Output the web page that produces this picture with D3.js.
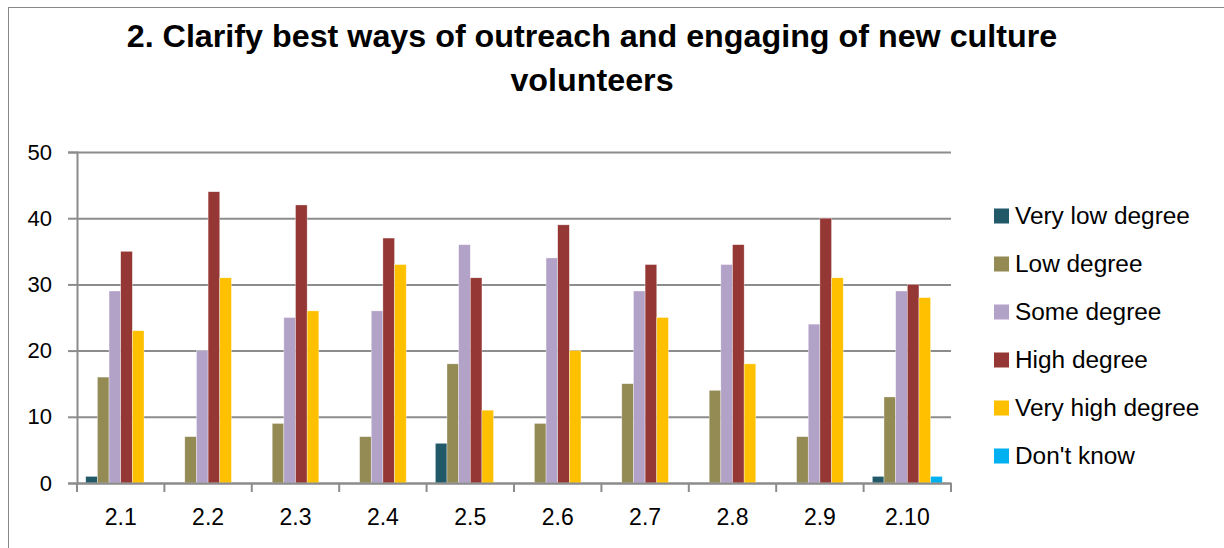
<!DOCTYPE html>
<html><head><meta charset="utf-8">
<script src="https://cdn.jsdelivr.net/npm/d3@7"></script>
<style>body{margin:0;background:#fff}svg{display:block}</style>
</head><body>
<svg id="c" width="1224" height="548"></svg>
<script>
const categories = ["2.1","2.2","2.3","2.4","2.5","2.6","2.7","2.8","2.9","2.10"];
const seriesNames = ["Very low degree","Low degree","Some degree","High degree","Very high degree","Don't know"];
const veryLow  = [1,0,0,0,6,0,0,0,0,1];
const low      = [16,7,9,7,18,9,15,14,7,13];
const some     = [29,20,25,26,36,34,29,33,24,29];
const high     = [35,44,42,37,31,39,33,36,40,30];
const veryHigh = [23,31,26,33,11,20,25,18,31,28];
const dontKnow = [0,0,0,0,0,0,0,0,0,1];
const yTicks = [0,10,20,30,40,50];
const colors = ["#215968","#948A54","#B3A2C7","#953735","#FFC000","#00B0F0"];
const titleLines = ["2. Clarify best ways of outreach and engaging of new culture","volunteers"];

const series = [veryLow, low, some, high, veryHigh, dontKnow];
const svg = d3.select("#c");
const FONT = "'Liberation Sans', Arial, sans-serif";

svg.append("rect").attr("x",8.5).attr("y",7.5).attr("width",1240).attr("height",600)
  .attr("fill","#fff").attr("stroke","#888").attr("stroke-width",1);

const L = 77, R = 951, T = 152, B = 483;
const x0 = d3.scaleBand().domain(categories).range([L,R]).paddingInner(0).paddingOuter(0);
const groupW = x0.bandwidth()*0.8;
const x1 = d3.scaleBand().domain(d3.range(series.length))
  .range([(x0.bandwidth()-groupW)/2,(x0.bandwidth()+groupW)/2]);
const y = d3.scaleLinear().domain([0,50]).range([B,T]);

// gridlines
const gy = svg.append("g").attr("transform",`translate(${L},0)`)
  .call(d3.axisLeft(y).tickValues(yTicks).tickSize(-(R-L)).tickFormat(""));
gy.select(".domain").remove();
gy.selectAll("line").attr("stroke","#8c8c8c").attr("stroke-width",2);
// y axis with outer tick marks
const gyt = svg.append("g").attr("transform",`translate(${L},0)`)
  .call(d3.axisLeft(y).tickValues(yTicks).tickSize(9).tickPadding(16).tickFormat(d3.format("d")));
gyt.select(".domain").attr("stroke","#8c8c8c").attr("stroke-width",2);
gyt.selectAll("line").attr("stroke","#8c8c8c").attr("stroke-width",2);
gyt.selectAll("text").attr("font-family",FONT).attr("font-size",22).attr("fill","#000");

// bars
const groups = svg.append("g").selectAll("g").data(categories).join("g")
  .attr("transform",d=>`translate(${x0(d)},0)`);
groups.selectAll("rect").data((d,i)=>series.map((s,k)=>({k,v:s[i]})).filter(o=>o.v>0)).join("rect")
  .attr("x",o=>x1(o.k)).attr("width",x1.bandwidth())
  .attr("y",o=>y(o.v)).attr("height",o=>y(0)-y(o.v))
  .attr("fill",o=>colors[o.k]).attr("stroke","rgba(255,255,255,0.6)").attr("stroke-width",0.6);

// x axis
const gx = svg.append("g").attr("transform",`translate(0,${B})`)
  .call(d3.axisBottom(x0).tickSize(0).tickPadding(26));
gx.select(".domain").attr("stroke","#8c8c8c").attr("stroke-width",2);
gx.selectAll("text").attr("font-family",FONT).attr("font-size",23).attr("fill","#000");
// category boundary ticks
const bounds = categories.map(c=>x0(c)).concat([R]);
gx.selectAll("line.b").data(bounds).join("line").attr("class","b")
  .attr("x1",d=>d).attr("x2",d=>d).attr("y1",0).attr("y2",9)
  .attr("stroke","#8c8c8c").attr("stroke-width",2);

function fit(sel, target){
  const w = sel.node().getComputedTextLength();
  const fs = parseFloat(sel.attr("font-size"));
  sel.attr("font-size", fs*target/w);
}

// title
const t1 = svg.append("text").attr("x",592).attr("y",47).attr("text-anchor","middle")
  .attr("font-family",FONT).attr("font-weight","bold").attr("font-size",28).attr("fill","#000").text(titleLines[0]);
fit(t1, 931);
svg.append("text").attr("x",592).attr("y",91).attr("text-anchor","middle")
  .attr("font-family",FONT).attr("font-weight","bold").attr("font-size",t1.attr("font-size")).attr("fill","#000").text(titleLines[1]);

// legend
const lg = svg.append("g").attr("transform","translate(994,216)");
const items = lg.selectAll("g").data(seriesNames).join("g").attr("transform",(d,i)=>`translate(0,${i*48})`);
items.append("rect").attr("x",0).attr("y",-7.5).attr("width",15).attr("height",15).attr("fill",(d,i)=>colors[i]);
const lt = items.append("text").attr("x",21).attr("y",7.5).attr("font-family",FONT).attr("font-size",21).attr("fill","#000").text(d=>d);
const w0 = lt.nodes()[0].getComputedTextLength();
lt.attr("font-size", 21*175/w0);
</script>
</body></html>
